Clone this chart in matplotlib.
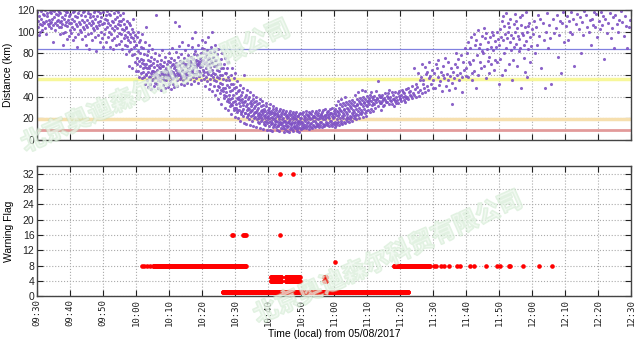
import datetime as dt
import numpy as np
import matplotlib
matplotlib.use("Agg")
import matplotlib.pyplot as plt
import matplotlib.dates as mdates
import matplotlib.patheffects as pe

# 起始時間 (05/08/2017 09:30)
t0 = dt.datetime(2017, 5, 8, 9, 30)

# ---- 距離資料 (km)，每 10 分鐘一組，每組內每分鐘一串讀值 ----
dist_0930 = [
    [118, 110, 104, 97, 121, 114, 107, 100],
    [112, 119, 106, 101, 116, 109, 123],
    [108, 115, 120, 103, 110, 98, 117],
    [114, 107, 122, 111, 105, 118, 108],
    [109, 117, 103, 120, 112, 106, 90],
    [119, 113, 108, 101, 116, 122, 110],
    [106, 115, 120, 111, 104, 118, 109, 98],
    [117, 110, 104, 121, 113, 107, 99, 88],
    [112, 120, 106, 115, 100, 109, 118, 93],
    [105, 118, 111, 122, 114, 96, 108, 101],
]
dist_0940 = [
    [116, 108, 99, 121, 112, 104, 92, 118],
    [110, 119, 102, 95, 114, 107, 122, 86],
    [113, 105, 117, 98, 109, 120, 101],
    [107, 115, 100, 121, 111, 93, 118, 104],
    [119, 109, 102, 114, 96, 122, 106, 88],
    [111, 104, 117, 98, 120, 108, 84, 113],
    [116, 106, 99, 121, 110, 92, 114, 103],
    [108, 118, 101, 112, 95, 120, 105, 82],
    [114, 103, 119, 97, 109, 122, 106, 90],
    [110, 117, 100, 113, 94, 121, 107, 86],
]
dist_0950 = [
    [118, 108, 98, 112, 102, 121, 90, 115],
    [111, 104, 119, 95, 108, 100, 116, 86],
    [115, 106, 98, 120, 110, 92, 103, 84],
    [109, 117, 101, 94, 112, 105, 88, 120],
    [113, 103, 96, 118, 107, 99, 89, 110],
    [106, 115, 98, 91, 110, 102, 84, 117],
    [112, 101, 94, 107, 97, 88, 104, 79],
    [103, 110, 95, 87, 100, 92, 82, 108, 68],
    [98, 106, 90, 84, 95, 78, 102, 66, 112],
    [94, 100, 86, 79, 91, 72, 97, 64, 88],
]
dist_1000 = [
    [88, 76, 95, 70, 82, 64, 100, 58, 73, 90],
    [80, 68, 92, 62, 75, 86, 57, 71, 98, 66],
    [74, 63, 85, 58, 70, 79, 52, 67, 90, 61, 104],
    [70, 60, 78, 55, 66, 82, 49, 63, 74, 58, 68, 88],
    [66, 58, 73, 52, 62, 77, 47, 69, 60, 55, 64, 84],
    [64, 56, 71, 50, 61, 75, 67, 59, 53, 63, 80, 115],
    [62, 57, 69, 52, 65, 73, 48, 60, 55, 67, 78, 58],
    [60, 66, 54, 70, 58, 63, 46, 74, 57, 61, 68, 83],
    [63, 57, 68, 51, 60, 72, 55, 65, 48, 59, 77, 62],
    [61, 66, 55, 70, 58, 64, 49, 73, 57, 62, 80, 52],
]
dist_1010 = [
    [60, 67, 54, 72, 58, 64, 47, 76, 62, 56, 85, 69],
    [63, 57, 70, 52, 66, 61, 74, 49, 59, 68, 109, 81],
    [58, 65, 71, 55, 62, 68, 50, 77, 60, 64, 105, 87],
    [62, 69, 56, 73, 60, 66, 52, 79, 58, 71, 64, 90],
    [65, 59, 72, 55, 68, 62, 76, 51, 70, 63, 83, 58],
    [61, 68, 57, 74, 64, 70, 53, 78, 60, 66, 88, 72],
    [66, 60, 73, 56, 69, 63, 77, 52, 71, 65, 86, 94],
    [63, 70, 58, 75, 66, 61, 79, 54, 72, 68, 82, 100],
    [67, 61, 74, 57, 70, 64, 78, 53, 69, 73, 88, 59],
    [64, 71, 59, 76, 67, 62, 80, 55, 73, 69, 85, 92],
]
dist_1020 = [
    [68, 74, 60, 80, 65, 71, 56, 84, 63, 77, 90, 50],
    [66, 72, 58, 79, 63, 69, 54, 83, 75, 61, 95, 47],
    [70, 64, 76, 56, 81, 67, 52, 73, 60, 86, 100, 45],
    [65, 71, 58, 77, 62, 68, 50, 82, 55, 74, 42, 88],
    [61, 68, 54, 74, 58, 65, 46, 79, 50, 70, 38, 84],
    [57, 64, 49, 70, 53, 60, 43, 75, 46, 66, 33, 80],
    [52, 60, 45, 66, 48, 56, 39, 70, 42, 62, 30, 76],
    [48, 55, 41, 62, 44, 51, 36, 66, 38, 58, 28, 72],
    [42, 49, 35, 55, 38, 45, 31, 60, 33, 52, 24, 66],
    [39, 46, 32, 52, 35, 42, 28, 57, 30, 48, 21, 62],
]
dist_1030 = [
    [36, 43, 30, 49, 33, 39, 26, 54, 28, 45, 20, 38],
    [40, 28, 46, 34, 18, 31, 51, 37, 24, 42, 26, 35],
    [27, 38, 44, 32, 22, 48, 29, 35, 60, 16, 40, 25],
    [36, 25, 31, 42, 15, 28, 46, 21, 33, 38, 23, 30],
    [24, 40, 29, 19, 34, 44, 26, 14, 36, 31, 22, 27],
    [33, 18, 28, 38, 23, 42, 13, 30, 25, 35, 20, 26],
    [21, 31, 36, 12, 26, 40, 19, 28, 33, 17, 24, 22],
    [30, 16, 25, 34, 20, 38, 23, 11, 27, 31, 18, 21],
    [19, 28, 24, 36, 10, 26, 32, 15, 22, 29, 17, 20],
    [27, 14, 23, 31, 18, 34, 21, 9, 25, 16, 28, 19],
]
dist_1040 = [
    [22, 13, 26, 17, 30, 9, 20, 24, 33, 15, 27, 18],
    [16, 25, 21, 8, 29, 19, 31, 12, 23, 14, 26, 18],
    [24, 20, 15, 28, 12, 18, 30, 22, 9, 25, 14, 17],
    [13, 23, 19, 27, 8, 21, 15, 29, 17, 11, 24, 16],
    [22, 14, 19, 26, 11, 17, 28, 20, 7, 24, 13, 18],
    [18, 25, 10, 22, 14, 27, 16, 20, 12, 8, 23, 17],
    [21, 13, 18, 25, 7, 16, 23, 10, 27, 19, 12, 15],
    [15, 24, 10, 21, 17, 26, 8, 19, 13, 22, 12, 16],
    [20, 11, 17, 24, 13, 26, 19, 8, 15, 22, 10, 18],
    [12, 22, 17, 7, 24, 15, 20, 11, 25, 18, 10, 16],
]
dist_1050 = [
    [20, 13, 24, 17, 11, 26, 15, 22, 19, 12],
    [14, 21, 18, 27, 11, 24, 16, 19, 13, 22],
    [23, 17, 10, 21, 26, 13, 19, 15, 25, 12],
    [16, 24, 20, 11, 27, 14, 18, 22, 13, 21],
    [22, 12, 18, 25, 16, 20, 27, 14, 23, 13],
    [15, 25, 19, 12, 22, 28, 17, 20, 14, 23],
    [24, 17, 21, 12, 26, 15, 19, 28, 22, 14],
    [13, 23, 19, 29, 15, 21, 17, 26, 24, 14],
    [21, 27, 16, 23, 13, 20, 29, 18, 25, 15],
    [18, 25, 13, 22, 30, 16, 24, 20, 27, 15],
]
dist_1100 = [
    [21, 25, 17, 29, 12, 23, 14, 32, 19, 27, 16],
    [26, 36, 22, 17, 30, 24, 14, 33, 20, 28, 16],
    [18, 27, 38, 22, 31, 15, 25, 20, 34, 29, 17],
    [28, 23, 16, 40, 32, 19, 26, 35, 21, 30, 18],
    [24, 33, 20, 29, 17, 36, 27, 22, 31, 19],
    [30, 21, 34, 25, 18, 37, 28, 23, 32, 20],
    [26, 35, 31, 22, 42, 19, 29, 24, 38, 33],
    [32, 27, 44, 23, 36, 20, 30, 25, 39, 34],
    [24, 33, 28, 46, 37, 26, 21, 40, 31, 35],
    [34, 29, 25, 45, 38, 22, 32, 27, 41, 36],
]
dist_1110 = [
    [31, 35, 28, 39, 33, 37, 26, 42],
    [36, 29, 44, 32, 40, 27, 38, 34],
    [33, 41, 37, 30, 45, 35, 39],
    [38, 31, 54, 36, 42, 34, 40],
    [34, 40, 28, 42, 36, 31, 38],
    [39, 32, 43, 37, 35, 41],
    [35, 43, 39, 33, 46, 37],
    [40, 36, 44, 33, 42, 38],
    [31, 38, 44, 36, 40, 34],
    [37, 43, 34, 41, 45, 39],
]
dist_1120 = [
    [38, 42, 36, 46, 40, 44],
    [43, 37, 41, 35, 47, 39],
    [40, 48, 38, 44, 42],
    [45, 41, 50, 39, 43],
    [42, 66, 47, 40, 52],
    [49, 44, 62, 41, 55],
    [46, 58, 43, 70, 52],
    [55, 48, 67, 44, 61],
    [50, 63, 46, 72, 57],
    [59, 52, 65, 48],
]
dist_1130 = [
    [55, 62, 48, 70],
    [66, 58, 74, 51],
    [54, 63, 45, 60],
    [68, 57, 76, 50],
    [61, 55, 72, 46],
    [59, 66, 33, 53],
    [63, 57, 70, 48, 80],
    [67, 60, 75, 55],
    [62, 78, 58, 44],
    [72, 65, 85, 59],
]
dist_1140 = [
    [66, 80, 58, 90, 72],
    [85, 70, 95, 62, 55],
    [74, 98, 64, 88, 48],
    [92, 78, 60, 101, 85],
    [72, 89, 66, 96, 82],
    [80, 103, 68, 94, 57],
    [99, 84, 73, 90, 62],
    [77, 95, 70, 86, 100],
    [97, 83, 65, 91, 74],
    [86, 100, 72, 93, 52],
]
dist_1150 = [
    [88, 102, 75, 95, 110, 60],
    [114, 92, 80, 105, 98, 65],
    [85, 117, 94, 108, 100, 70],
    [104, 90, 112, 83, 97, 55],
    [94, 74, 107, 86, 116, 100],
    [110, 89, 68, 103, 96, 82],
    [93, 113, 85, 106, 48, 99],
    [115, 97, 76, 88, 104, 63],
    [91, 118, 100, 58, 105, 84],
    [108, 95, 72, 87, 102],
]
dist_1200 = [
    [98, 110, 80], [104, 88, 115], [96, 112, 66], [108, 92, 48],
    [100, 117, 85], [106, 94, 52], [112, 99], [103, 115, 77],
    [97, 110, 62], [108, 118, 90],
]
dist_1210 = [
    [105, 114, 92], [110, 100, 118], [98, 112, 68], [107, 116],
    [102, 113, 80], [109, 97, 119], [115, 104], [100, 111, 88],
    [112, 106, 118], [104, 116, 95],
]
dist_1220 = [
    [110, 102, 118], [106, 114, 75], [112, 99], [108, 117, 94],
    [103, 113, 85], [115, 107], [100, 111, 119], [109, 96],
    [114, 105, 85], [104, 111],
]
dist_blocks = [dist_0930, dist_0940, dist_0950, dist_1000, dist_1010, dist_1020,
               dist_1030, dist_1040, dist_1050, dist_1100, dist_1110, dist_1120,
               dist_1130, dist_1140, dist_1150, dist_1200, dist_1210, dist_1220]

# 警示門檻 (km)
thresholds = [83.5, 56, 19, 9]
threshold_colors = ["#8080e0", "#f7f79a", "#f6dfae", "#e29a9a"]
threshold_widths = [0.9, 2.5, 2.5, 2.0]

# ---- 警示旗標 (分鐘，自 09:30 起) ----
sample_step = 0.1  # 每 6 秒一筆
flag8_runs = [(35.2, 63.2), (108.2, 119.0)]
flag8_points = [31.7, 32.5, 33.3, 34.1, 120.4, 120.9, 122.4, 123.2, 124.9,
                127.2, 128.1, 131.1, 132.3, 136.0, 139.3, 140.4, 142.9, 143.4,
                147.4, 152.2, 156.1]
flag1_runs = [(56.2, 112.5)]
flag45_runs = [(70.9, 73.0), (73.3, 74.0), (75.3, 77.6), (77.9, 79.6), (87.0, 87.6)]
flag16_points = [59.2, 59.5, 62.3, 62.6, 62.9, 63.2, 73.7]
flag32_points = [73.7, 77.7]
flag9_points = [90.3]


def to_time(m):
    return t0 + dt.timedelta(minutes=float(m))


times, dists = [], []
for b, block in enumerate(dist_blocks):
    for i, vals in enumerate(block):
        m = b * 10 + i
        n = len(vals)
        for k, v in enumerate(vals):
            times.append(to_time(m + (k + 0.5) / n))
            dists.append(v)


def expand(runs):
    out = []
    for a, b in runs:
        out.extend(np.arange(a, b + 1e-9, sample_step))
    return out


flag_t, flag_v = [], []
for mins, val in [(expand(flag8_runs) + flag8_points, 8),
                  (expand(flag1_runs), 1),
                  (expand(flag45_runs), 4),
                  (expand(flag45_runs), 5),
                  (flag16_points, 16),
                  (flag32_points, 32),
                  (flag9_points, 9)]:
    for m in mins:
        flag_t.append(to_time(m))
        flag_v.append(val)

# ---- 繪圖 ----
plt.rcParams["font.family"] = ["Liberation Sans", "DejaVu Sans"]
fig = plt.figure(figsize=(6.4, 3.4), dpi=100)
ax1 = fig.add_axes([0.058, 0.588, 0.928, 0.383])
ax2 = fig.add_axes([0.058, 0.129, 0.928, 0.383])

for y, c, w in zip(thresholds, threshold_colors, threshold_widths):
    ax1.axhline(y, color=c, lw=w, zorder=1)
ax1.scatter(times, dists, s=5, color="#7f52c4", linewidths=0, alpha=0.9, zorder=2)
ax1.set_ylim(0, 120)
ax1.set_yticks(range(0, 121, 20))
ax1.set_ylabel("Distance (km)", fontsize=7.5, labelpad=3)

ax2.scatter(flag_t, flag_v, s=11, color="#ff0000", linewidths=0, zorder=2)
ax2.set_ylim(0, 34)
ax2.set_yticks(range(0, 33, 4))
ax2.set_ylabel("Warning Flag", fontsize=7.5, labelpad=6)
ax2.set_xlabel("Time (local) from 05/08/2017", fontsize=7.5, labelpad=2)

for ax in (ax1, ax2):
    ax.set_xlim(to_time(0), to_time(180))
    ax.xaxis.set_major_locator(mdates.MinuteLocator(byminute=range(0, 60, 10)))
    ax.xaxis.set_major_formatter(mdates.DateFormatter("%H:%M"))
    ax.grid(True, linestyle=":", color="#aaaaaa", lw=0.8)
    ax.set_axisbelow(True)
    ax.tick_params(direction="in", top=True, right=True, length=4,
                   labelsize=7.5, colors="#222222", pad=2)
    for sp in ax.spines.values():
        sp.set_color("#444444")
        sp.set_linewidth(1.0)

ax1.tick_params(labelbottom=False)
for lab in ax2.get_xticklabels():
    lab.set_rotation(90)
    lab.set_family("DejaVu Sans Mono")
    lab.set_fontsize(6.5)

# 浮水印
wm = "北京奥迪森尔科贸有限公司"
for x, y in [(0.243, 0.745), (0.606, 0.241)]:
    fig.text(x, y, wm, rotation=24, rotation_mode="anchor", ha="center", va="center",
             fontsize=17.5, fontweight="bold", family=["Noto Sans CJK SC", "DejaVu Sans"],
             color="#eef8ee", alpha=0.45, zorder=10,
             path_effects=[pe.withStroke(linewidth=1.3, foreground="#bfe2bf")])

fig.savefig("out.png", dpi=100)
